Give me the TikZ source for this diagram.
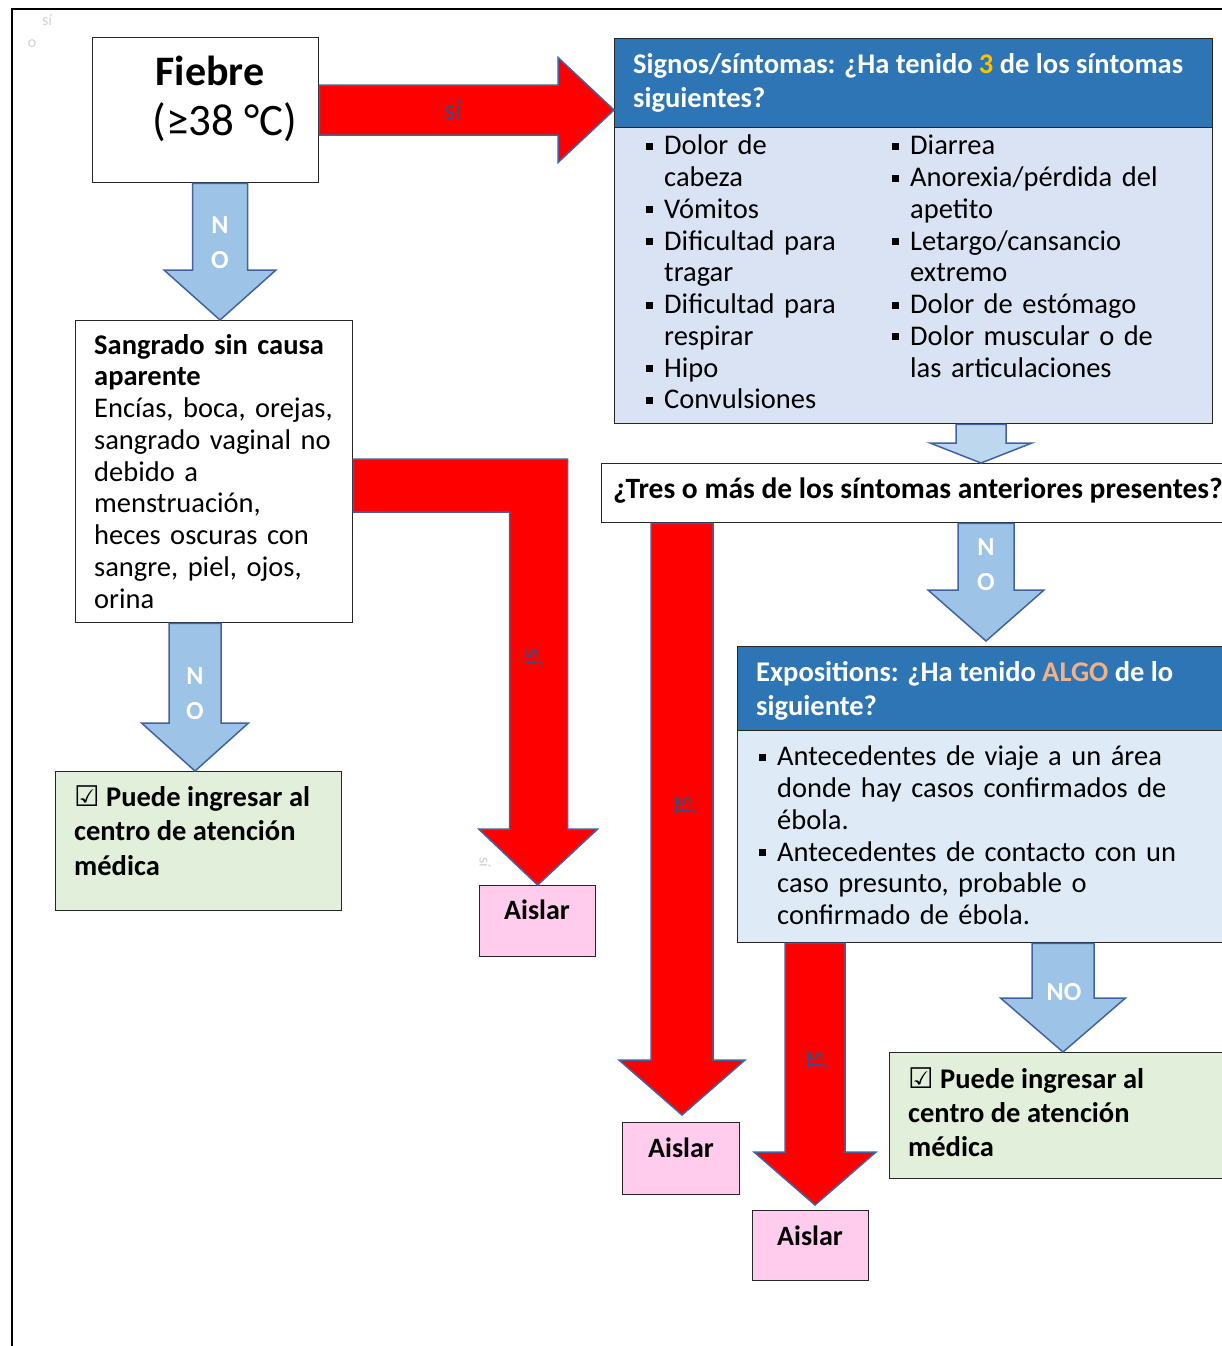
\documentclass[tikz,border=0pt]{standalone}
\usepackage{fontspec}
\setmainfont{Carlito}
\newfontfamily\symbolfont{DejaVu Sans}
\usepackage{tikz}
\usetikzlibrary{calc}

\definecolor{headblue}{RGB}{46,117,182}
\definecolor{listblue}{RGB}{218,227,243}
\definecolor{expblue}{RGB}{222,235,247}
\definecolor{noblue}{RGB}{157,195,230}
\definecolor{paleblue}{RGB}{189,215,238}
\definecolor{arrowedge}{RGB}{65,100,160}
\definecolor{okgreen}{RGB}{226,239,218}
\definecolor{isopink}{RGB}{255,204,238}
\definecolor{gold}{RGB}{255,192,0}
\definecolor{algo}{RGB}{244,177,131}
\definecolor{silabel}{RGB}{60,78,125}

\newcommand{\bodyfont}{\fontsize{28.5}{31.75}\selectfont}
\newcommand{\itm}[1]{\par\hangindent=18pt\hangafter=1\noindent\makebox[18pt][l]{\raisebox{5pt}{\rule{7pt}{7pt}}}\strut#1}
\newcommand{\ok}{{\symbolfont\bfseries ☑}}

% block arrows: style, x (or y), from, to, half shaft, half head, head length
\newcommand{\blockdown}[7]{\path[#1] let \p3=(#2,0), \p1=(#3), \p2=(#4) in
  (\x3-#5pt,\y1) -- (\x3+#5pt,\y1) -- (\x3+#5pt,\y2+#7pt) -- (\x3+#6pt,\y2+#7pt)
  -- (\x3,\y2) -- (\x3-#6pt,\y2+#7pt) -- (\x3-#5pt,\y2+#7pt) -- cycle;}
\newcommand{\blockright}[7]{\path[#1] let \p3=(0,#2), \p1=(#3), \p2=(#4) in
  (\x1,\y3+#5pt) -- (\x2-#7pt,\y3+#5pt) -- (\x2-#7pt,\y3+#6pt) -- (\x2,\y3)
  -- (\x2-#7pt,\y3-#6pt) -- (\x2-#7pt,\y3-#5pt) -- (\x1,\y3-#5pt) -- cycle;}

\begin{document}
\begin{tikzpicture}[x=1pt,y=-1pt]
\tikzstyle{box}=[draw=black!85, line width=1.3pt, inner sep=0pt, anchor=north west]
\tikzstyle{txt}=[inner sep=0pt, anchor=north west, align=left, font=\bodyfont]
\tikzstyle{redarrow}=[fill=red, draw=arrowedge, line width=1.5pt]
\tikzstyle{bluearrow}=[fill=noblue, draw=arrowedge, line width=1.5pt]
\tikzstyle{nolab}=[inner sep=0pt, align=center, text=white, font=\fontsize{26}{35}\selectfont\bfseries]
\tikzstyle{silab}=[inner sep=0pt, text=silabel, font=\fontsize{26}{30}\selectfont]
\tikzstyle{faint}=[inner sep=0pt, text=black!18, font=\fontsize{16}{18}\selectfont]

\useasboundingbox (0,0) rectangle (1222,1346);
\draw[line width=1.2pt] (12,1346) -- (12,9) -- (1222,9);
\node[faint] (fa) at (47,20) {sí};
\node[faint] (fb) at (32,44) {o};

% boxes
\node[box, fill=white, minimum width=226pt, minimum height=145pt] (fiebre) at (92,37) {};
\node[box, fill=headblue, minimum width=598pt, minimum height=89pt] (signosH) at (614,38) {};
\node[box, fill=listblue, minimum width=598pt, minimum height=296pt] (signosB) at (614,127) {};
\node[box, fill=white, minimum width=640pt, minimum height=59pt] (tres) at (601,463) {};
\node[box, fill=headblue, minimum width=500pt, minimum height=84pt] (expH) at (737,646) {};
\node[box, fill=expblue, minimum width=500pt, minimum height=212pt] (expB) at (737,730) {};
\node[box, fill=okgreen, minimum width=350pt, minimum height=126pt] (okB) at (889,1052) {};
\node[box, fill=white, minimum width=277pt, minimum height=302pt] (sangrado) at (75,320) {};
\node[box, fill=okgreen, minimum width=286pt, minimum height=139pt] (okA) at (55,771) {};
\node[box, fill=isopink, minimum width=116pt, minimum height=71pt] (aislarA) at (479,885) {};
\node[box, fill=isopink, minimum width=117pt, minimum height=72pt] (aislarB) at (622,1122) {};
\node[box, fill=isopink, minimum width=116pt, minimum height=70pt] (aislarC) at (752,1210) {};

% texts
\node[inner sep=0pt, anchor=base, font=\fontsize{42}{50}\selectfont\bfseries] (fiebreA) at (210,85) {Fiebre};
\node[inner sep=0pt, anchor=base, font=\fontsize{45}{50}\selectfont] (fiebreB) at (225,135) {(≥38 °C)};
\node[txt, text=white, font=\fontsize{28.5}{34}\selectfont\bfseries] (signosT) at (633,49.2)
  {\strut Signos/síntomas: ¿Ha tenido \textcolor{gold}{3} de los síntomas\\ siguientes?};
\node[txt, text width=260pt] (listA) at (646,122.8)
  {\itm{Dolor de\newline cabeza}\itm{Vómitos}\itm{Dificultad para\newline tragar}%
   \itm{Dificultad para\newline respirar}\itm{Hipo}\itm{Convulsiones}\par};
\node[txt, text width=320pt] (listB) at (892,122.8)
  {\itm{Diarrea}\itm{Anorexia/pérdida del\newline apetito}\itm{Letargo/cansancio\newline extremo}%
   \itm{Dolor de estómago}\itm{Dolor muscular o de\newline las articulaciones}\par};
\node[inner sep=0pt, anchor=base, font=\fontsize{29.5}{34}\selectfont\bfseries] (tresT) at (918,498)
  {¿Tres o más de los síntomas anteriores presentes?};
\node[txt, text=white, font=\fontsize{28.5}{34}\selectfont\bfseries] (expT) at (756,657.2)
  {\strut Expositions: ¿Ha tenido \textcolor{algo}{ALGO} de lo\\ siguiente?};
\node[txt, text width=460pt] (listC) at (759,733.8)
  {\itm{Antecedentes de viaje a un área\newline donde hay casos confirmados de\newline ébola.}%
   \itm{Antecedentes de contacto con un\newline caso presunto, probable o\newline confirmado de ébola.}\par};
\node[txt, text width=260pt] (sangradoT) at (94,331.8)
  {\strut\textbf{Sangrado sin causa\\ aparente}\\ Encías, boca, orejas,\\ sangrado vaginal no\\ debido a\\
   menstruación,\\ heces oscuras con\\ sangre, piel, ojos,\\ orina};
\node[txt, font=\fontsize{28.5}{34.5}\selectfont\bfseries] (okAT) at (74,782)
  {\strut\ok{} Puede ingresar al\\ centro de atención\\ médica};
\node[txt, font=\fontsize{28.5}{34}\selectfont\bfseries] (okBT) at (908,1064)
  {\strut\ok{} Puede ingresar al\\ centro de atención\\ médica};
\node[inner sep=0pt, anchor=base, font=\fontsize{28}{34}\selectfont\bfseries] (aislarAT) at (537,919) {Aislar};
\node[inner sep=0pt, anchor=base, font=\fontsize{28}{34}\selectfont\bfseries] (aislarBT) at (681,1157) {Aislar};
\node[inner sep=0pt, anchor=base, font=\fontsize{28}{34}\selectfont\bfseries] (aislarCT) at (810,1245) {Aislar};

% arrows
\blockright{redarrow}{110}{fiebre.east}{signosH.west}{25}{52.5}{56}
\blockdown{bluearrow}{220}{fiebre.south}{sangrado.north}{27.5}{56}{50}
\blockdown{bluearrow}{195}{sangrado.south}{okA.north}{26}{53.5}{48}
\blockdown{bluearrow, fill=paleblue}{981}{signosB.south}{tres.north}{25}{51}{20}
\blockdown{bluearrow}{986}{tres.south}{$(expH.north)+(0,-5)$}{28}{58}{51}
\blockdown{bluearrow}{1063}{expB.south}{okB.north}{31}{62.5}{54}
\blockdown{redarrow}{682}{tres.south}{$(aislarB.north)+(0,-7)$}{31}{63}{55}
\blockdown{redarrow}{815}{expB.south}{$(aislarC.north)+(0,-5)$}{30}{61}{53}
\path[redarrow] let \p1=(sangrado.east), \p2=(aislarA.north), \p3=(0,459), \p4=(0,512) in
  (\x1,\y3) -- (\x2+30pt,\y3) -- (\x2+30pt,\y2+56pt) -- (\x2+60pt,\y2+56pt) -- (\x2,\y2)
  -- (\x2-59pt,\y2+56pt) -- (\x2-28pt,\y2+56pt) -- (\x2-28pt,\y4) -- (\x1,\y4) -- cycle;

% arrow labels
\node[silab, font=\fontsize{28}{30}\selectfont] (siA) at (453,110) {sí};
\node[silab, rotate=-90] (siB) at (533,657) {\underline{sí}};
\node[silab, rotate=-90] (siC) at (686,805) {\underline{sí}};
\node[silab, rotate=-90] (siD) at (818,1060) {\underline{sí}};
\node[faint, rotate=-90] (fc) at (485,862) {sí};
\node[nolab] (noA) at (220,243) {N\\O};
\node[nolab] (noB) at (195,694) {N\\O};
\node[nolab] (noC) at (986,565) {N\\O};
\node[nolab] (noD) at (1064,992) {NO};
\end{tikzpicture}
\end{document}
